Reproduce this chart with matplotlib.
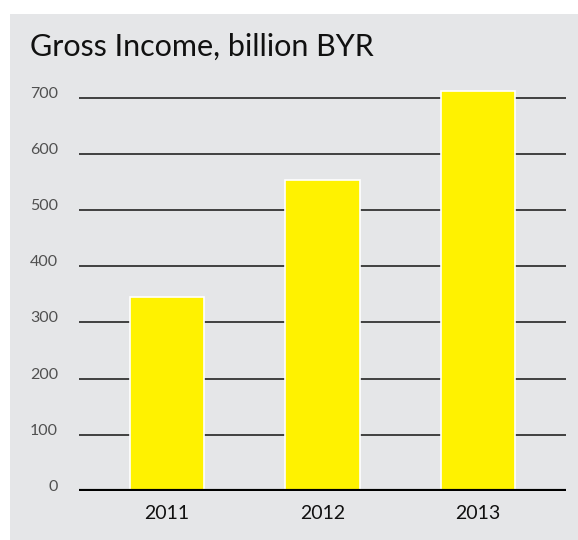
import matplotlib.pyplot as plt
from matplotlib.patches import Rectangle

years = ["2011", "2012", "2013"]
income = [345, 553, 713]
yticks = [0, 100, 200, 300, 400, 500, 600, 700]

W, H = 578, 540
fig = plt.figure(figsize=(W / 100, H / 100), dpi=100)
fig.patch.set_facecolor("white")

# grey panel behind the chart
fig.patches.append(Rectangle((10 / W, 0), 1 - 10 / W, 1 - 14 / H,
                             transform=fig.transFigure, facecolor="#e5e6e8",
                             edgecolor="none", zorder=-5))

fig.text(30 / W, 1 - 56 / H, "Gross Income, billion BYR", fontsize=22,
         family="Lato", color="#111111", va="baseline", ha="left")

left, right = 79 / W, 566 / W
bottom, top = 1 - 490.7 / H, 1 - 86.8 / H
ax = fig.add_axes([left, bottom, right - left, top - bottom])
ax.set_facecolor("none")

x = list(range(len(years)))
ax.bar(x, income, width=0.48, color="#fff200", edgecolor="white",
       linewidth=1.2, zorder=3)

ax.set_xlim(-0.566, 2.566)
ax.set_ylim(0, 720)

for v in yticks[1:]:
    ax.axhline(v, color="#333333", linewidth=1.3, zorder=1)
ax.axhline(0, color="black", linewidth=3, zorder=4)

ax.set_yticks(yticks)
ax.set_yticklabels([str(v) for v in yticks], family="Lato", fontsize=11.5,
                   color="#505050")
for lab in ax.get_yticklabels():
    lab.set_verticalalignment("baseline")
ax.tick_params(axis="y", length=0, pad=15)

ax.set_xticks(x)
ax.set_xticklabels(years, family="Lato", fontsize=14, color="#111111")
ax.tick_params(axis="x", length=0, pad=10)

for s in ax.spines.values():
    s.set_visible(False)

fig.savefig("out.png", dpi=100)
